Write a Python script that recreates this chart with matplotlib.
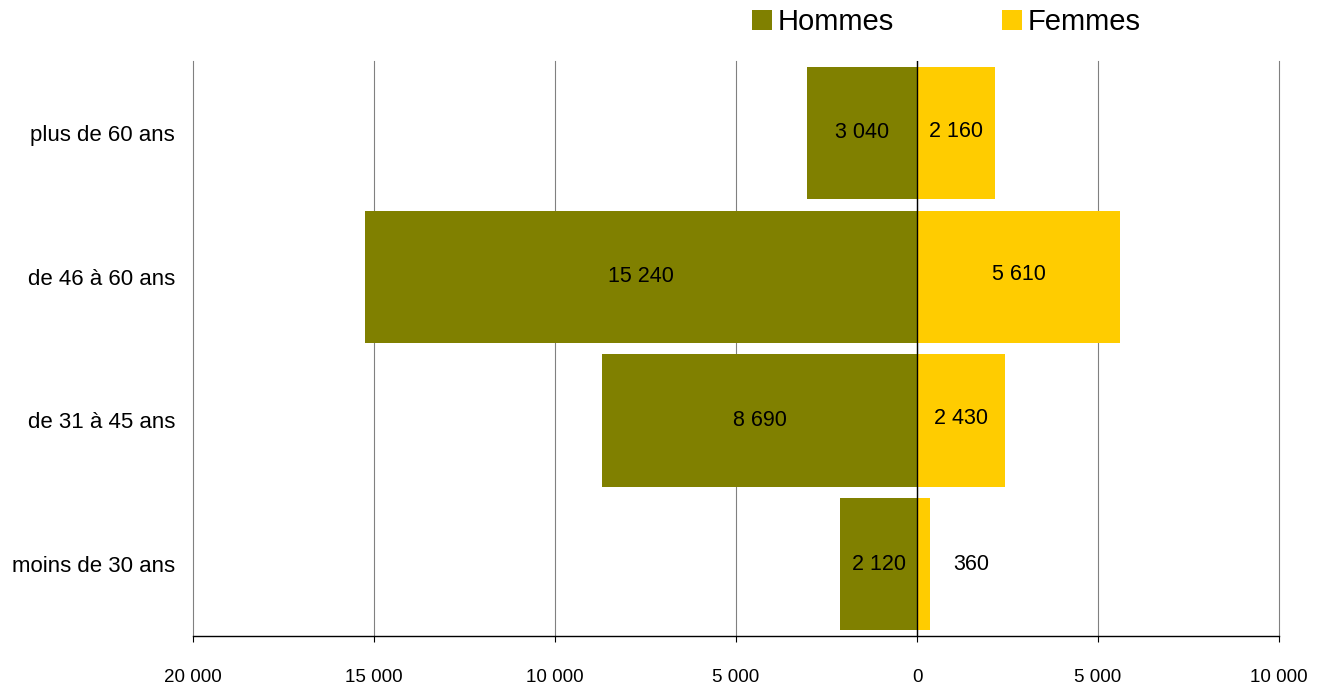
import matplotlib.pyplot as plt
import numpy as np

plt.rcParams['font.family'] = ['Liberation Sans', 'DejaVu Sans']

# data, bottom to top
categories = ['moins de 30 ans', 'de 31 à 45 ans', 'de 46 à 60 ans', 'plus de 60 ans']
hommes = [2120, 8690, 15240, 3040]
femmes = [360, 2430, 5610, 2160]
x_ticks = [-20000, -15000, -10000, -5000, 0, 5000, 10000]

col_h = '#808000'
col_f = '#FFCC00'


def fmt(v):
    return f"{abs(int(v)):,}".replace(",", " ")


fig = plt.figure(figsize=(13.21, 6.9), dpi=100)
ax = fig.add_axes([193 / 1321, 1 - 636 / 690, (1279 - 193) / 1321, (636 - 61) / 690])

y = np.arange(len(categories))
bh = ax.barh(y, [-v for v in hommes], height=0.92, color=col_h, label='Hommes', zorder=2)
bf = ax.barh(y, femmes, height=0.92, color=col_f, label='Femmes', zorder=2)

for i, v in enumerate(hommes):
    ax.text(-v / 2, y[i], fmt(v), ha='center', va='center', fontsize=15.5, zorder=3)
for i, v in enumerate(femmes):
    if v < 1000:
        ax.annotate(fmt(v), (v, y[i]), xytext=(17, 0), textcoords='offset points',
                    ha='left', va='center', fontsize=15.5, zorder=3)
    else:
        ax.text(v / 2, y[i] + 0.012, fmt(v), ha='center', va='center', fontsize=15.5, zorder=3)

ax.set_xlim(-20000, 10000)
ax.set_ylim(-0.5, 3.5)
ax.set_xticks(x_ticks)
ax.set_xticklabels([fmt(t) for t in x_ticks])
ax.set_yticks(y)
ax.set_yticklabels(categories)

ax.grid(axis='x', color='#808080', linewidth=0.8, zorder=0)
for gl in ax.get_xgridlines():
    gl.set_clip_on(False)
ax.axvline(0, color='black', linewidth=1, zorder=4)
for s in ['top', 'right', 'left']:
    ax.spines[s].set_visible(False)
ax.spines['bottom'].set_color('black')
ax.spines['bottom'].set_linewidth(1)
ax.spines['bottom'].set_zorder(5)

ax.tick_params(axis='x', direction='out', length=4, width=0.8, pad=20, labelsize=13.5)
ax.tick_params(axis='y', length=0, pad=13, labelsize=16)

fig.legend(handles=[bh, bf], loc='center left', bbox_to_anchor=(752 / 1321, 1 - 22 / 690),
           ncol=2, frameon=False, fontsize=21, handlelength=0.68, handleheight=0.68,
           handletextpad=0.2, columnspacing=3.7, borderaxespad=0, borderpad=0)

fig.savefig('out.png', dpi=100)
